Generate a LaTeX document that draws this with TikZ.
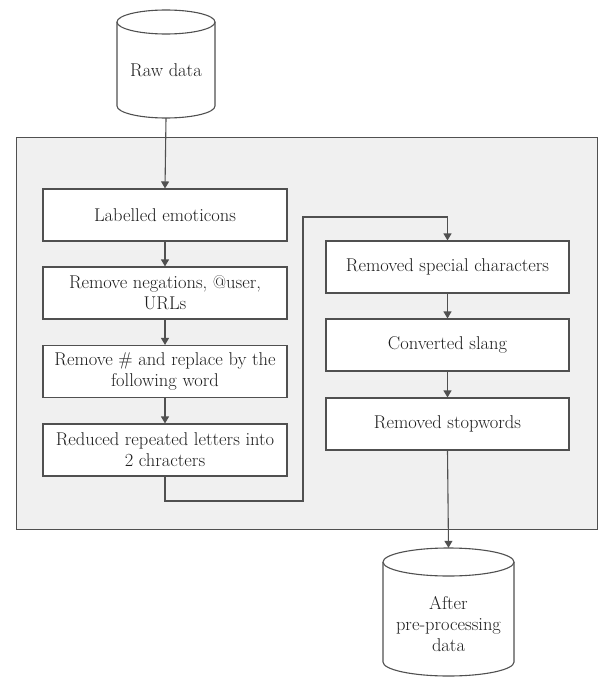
\documentclass[tikz,border=0pt]{standalone}
\usetikzlibrary{arrows.meta}
\definecolor{ln}{HTML}{505050}
\definecolor{txt}{HTML}{1E1E1E}
\definecolor{panel}{HTML}{F0F0F0}
\tikzset{
  stepbox/.style={draw=ln, line width=1.1pt, fill=white, minimum width=244pt, minimum height=52pt,
    align=center, text=txt, inner sep=1pt, font=\fontsize{18.5}{21}\selectfont},
  cyltext/.style={text=txt, align=center, font=\fontsize{18.5}{21}\selectfont, inner sep=0pt},
  arr/.style={draw=ln, line width=1.1pt, -{Triangle[length=7pt,width=8pt]}},
  plain/.style={draw=ln, line width=1.1pt},
}
\begin{document}
\begin{tikzpicture}[x=1pt,y=-1pt]
\useasboundingbox (0,0) rectangle (598,677);
% panel
\node[draw=ln, line width=1.1pt, fill=panel, minimum width=581pt, minimum height=392pt, inner sep=0pt, anchor=north west] (panel) at (16,137) {};
% raw data cylinder
\node[minimum width=98pt, minimum height=108pt, inner sep=0pt] (raw) at (166,64) {};
\draw[plain, fill=white] (117,22) -- (117,106) arc[start angle=180, end angle=360, x radius=49, y radius=-12] -- (215,22);
\draw[plain, fill=white] (166,22) ellipse[x radius=49, y radius=12];
\node[cyltext] (rawt) at (166,70) {Raw data};
% after cylinder
\node[minimum width=131pt, minimum height=128pt, inner sep=0pt] (after) at (448.5,612) {};
\draw[plain, fill=white] (383,562) -- (383,662) arc[start angle=180, end angle=360, x radius=65.5, y radius=-14] -- (514,562);
\draw[plain, fill=white] (448.5,562) ellipse[x radius=65.5, y radius=14];
\node[cyltext] (aftert) at (448.5,624) {After\\pre-processing\\data};
% boxes
\node[stepbox] (b1) at (165,215) {Labelled emoticons};
\node[stepbox] (b2) at (165,293) {Remove negations, @user,\\URLs};
\node[stepbox] (b3) at (165,371.5) {Remove \# and replace by the\\following word};
\node[stepbox] (b4) at (165,450) {Reduced repeated letters into\\2 chracters};
\node[stepbox, minimum width=243pt] (b5) at (447.5,267) {Removed special characters};
\node[stepbox, minimum width=243pt] (b6) at (447.5,345) {Converted slang};
\node[stepbox, minimum width=243pt] (b7) at (447.5,424) {Removed stopwords};
\coordinate (c1) at (303,501);
\coordinate (c2) at (303,217);
% connectors
\draw[arr] (raw.south) -- (b1.north);
\draw[arr] (b1) -- (b2);
\draw[arr] (b2) -- (b3);
\draw[arr] (b3) -- (b4);
\draw[arr] (b4.south) |- (c1) -- (c2) -| (b5.north);
\draw[arr] (b5) -- (b6);
\draw[arr] (b6) -- (b7);
\draw[arr] (b7.south) -- (after.north);
\end{tikzpicture}
\end{document}
